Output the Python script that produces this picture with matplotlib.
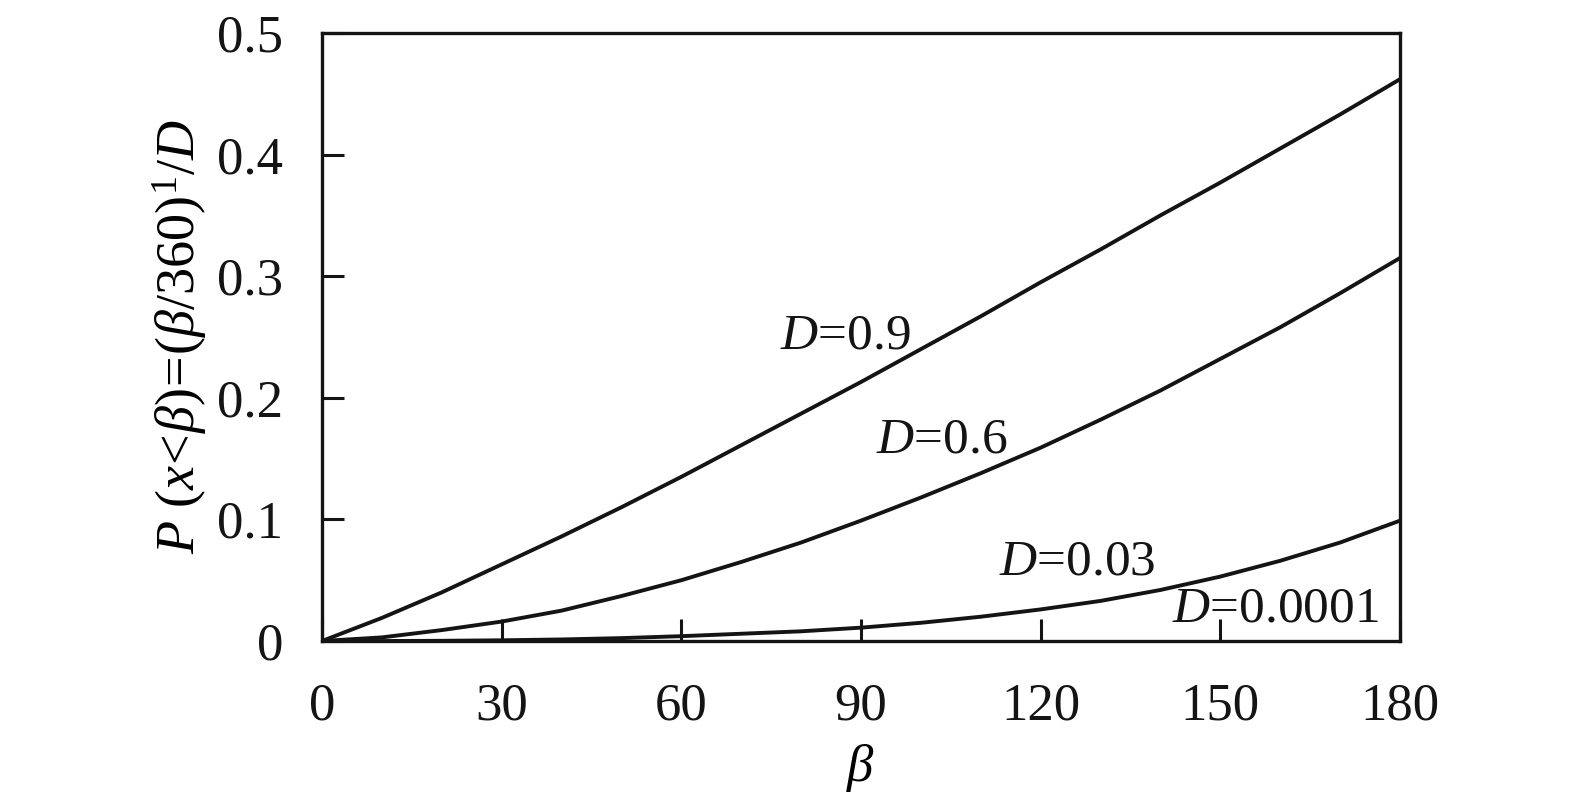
import matplotlib
matplotlib.use("Agg")
import matplotlib.pyplot as plt

plt.rcParams['font.family'] = ['Liberation Serif', 'DejaVu Serif']
plt.rcParams['mathtext.fontset'] = 'custom'
plt.rcParams['mathtext.rm'] = 'Liberation Serif'
plt.rcParams['mathtext.it'] = 'Liberation Serif:italic'

# beta values (deg) and probabilities
beta = [0, 10, 20, 30, 40, 50, 60, 70, 80, 90, 100, 110, 120, 130, 140, 150, 160, 170, 180]
p_d09 = [0, 0.019, 0.040, 0.063, 0.086, 0.110, 0.135, 0.161, 0.187, 0.213, 0.240,
         0.267, 0.295, 0.322, 0.350, 0.377, 0.405, 0.433, 0.462]
p_d06 = [0, 0.003, 0.009, 0.016, 0.025, 0.037, 0.050, 0.065, 0.081, 0.099, 0.118,
         0.138, 0.159, 0.182, 0.206, 0.232, 0.258, 0.286, 0.315]
p_d003 = [0, 0, 0.0002, 0.0006, 0.0013, 0.0024, 0.004, 0.006, 0.008, 0.011, 0.015,
          0.020, 0.026, 0.033, 0.042, 0.053, 0.066, 0.081, 0.099]

labels = ['$D$=0.9', '$D$=0.6', '$D$=0.03', '$D$=0.0001']
label_xy = [(76.5, 0.251), (92.5, 0.165), (113, 0.065), (142, 0.026)]

fig = plt.figure(figsize=(15.75, 8.02), dpi=100)
ax = fig.add_axes([0.2044, 0.2007, 0.6845, 0.7582])

for ys in (p_d09, p_d06, p_d003):
    ax.plot(beta, ys, color='#141414', lw=2.8, solid_joinstyle='round')

for txt, (x, y) in zip(labels, label_xy):
    ax.text(x, y, txt, fontsize=37, color='#141414', ha='left', va='center')

ax.set_xlim(0, 180)
ax.set_ylim(0, 0.5)
ax.set_xticks([0, 30, 60, 90, 120, 150, 180])
ax.set_yticks([0, 0.1, 0.2, 0.3, 0.4, 0.5])
ax.set_yticklabels(['0', '0.1', '0.2', '0.3', '0.4', '0.5'])
ax.tick_params(direction='in', length=16, width=2.2, labelsize=38, colors='#141414')
ax.tick_params(axis='x', pad=30)
ax.tick_params(axis='y', pad=28)
for s in ax.spines.values():
    s.set_linewidth(2.4)
    s.set_color('#141414')

ax.set_xlabel(r'$\beta$', fontsize=38, labelpad=8)
ax.set_ylabel(r'$P\ (x\!<\!\beta)\!=\!(\beta/360)^{1}/D$', fontsize=39, labelpad=6)

fig.savefig('out.png', dpi=100)
